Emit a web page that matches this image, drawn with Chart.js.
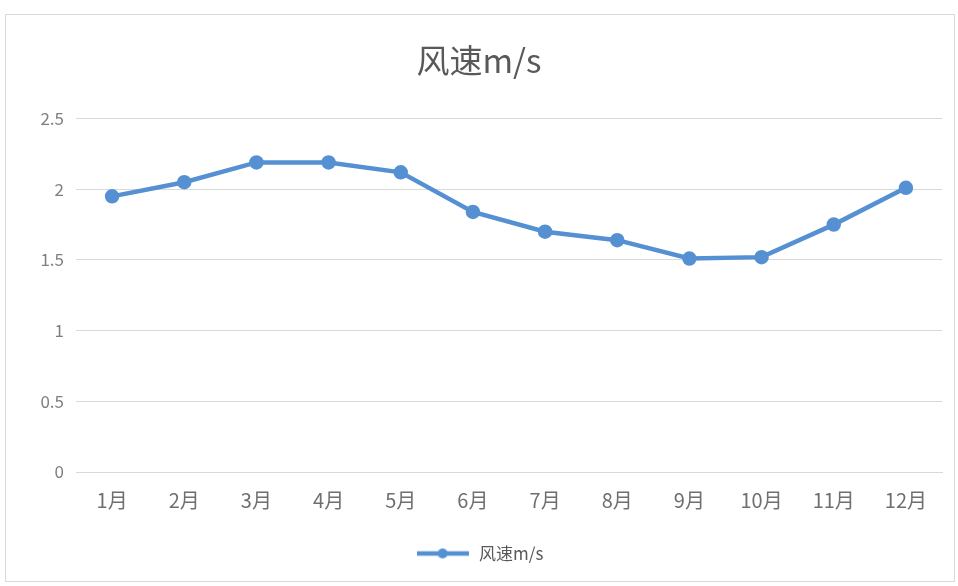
<!DOCTYPE html>
<html>
<head>
<meta charset="utf-8">
<script src="https://cdn.jsdelivr.net/npm/chart.js@4"></script>
<style>
  html, body { margin: 0; padding: 0; background: #fff; }
  #box {
    position: absolute; left: 5px; top: 14px;
    width: 950px; height: 568px;
    border: 1px solid #d9d9d9; box-sizing: border-box;
  }
  #chart { display: block; }
</style>
</head>
<body>
<div id="box"><canvas id="chart" width="948" height="566"></canvas></div>
<script>
const months = ['1月', '2月', '3月', '4月', '5月', '6月', '7月', '8月', '9月', '10月', '11月', '12月'];
const windSpeed = [1.95, 2.05, 2.19, 2.19, 2.12, 1.84, 1.70, 1.64, 1.51, 1.52, 1.75, 2.01];
const seriesName = '风速m/s';
const yTicks = [0, 0.5, 1, 1.5, 2, 2.5];

const fontFamily = '"Noto Sans CJK SC", "Noto Sans", sans-serif';
const blue = '#5590d2';

// legend symbol: line with a dot in the middle
function legendMarker() {
  const c = document.createElement('canvas');
  c.width = 52; c.height = 12;
  const g = c.getContext('2d');
  g.strokeStyle = blue;
  g.lineWidth = 4.5;
  g.beginPath(); g.moveTo(0, 6); g.lineTo(52, 6); g.stroke();
  g.fillStyle = blue;
  g.beginPath(); g.arc(26, 6, 5, 0, Math.PI * 2); g.fill();
  return c;
}

new Chart(document.getElementById('chart'), {
  type: 'line',
  data: {
    labels: months,
    datasets: [{
      label: seriesName,
      data: windSpeed,
      borderColor: blue,
      backgroundColor: blue,
      borderWidth: 4.5,
      pointRadius: 5,
      pointStyle: 'circle',
      pointBackgroundColor: blue,
      pointBorderColor: blue,
      tension: 0
    }]
  },
  options: {
    responsive: false,
    animation: false,
    layout: { padding: { left: 10, right: 12, top: 0, bottom: 9 } },
    plugins: {
      title: {
        display: true,
        text: seriesName,
        color: '#595959',
        font: { family: fontFamily, size: 33, weight: 'normal' },
        padding: { top: 26, bottom: 38 }
      },
      legend: {
        position: 'bottom',
        labels: {
          color: '#595959',
          font: { family: fontFamily, size: 17 },
          usePointStyle: true,
          pointStyle: legendMarker(),
          pointStyleWidth: 56,
          padding: 25
        }
      },
      tooltip: { enabled: false }
    },
    scales: {
      x: {
        offset: true,
        grid: { display: false },
        border: { color: '#d9d9d9' },
        ticks: { color: '#6f6f6f', font: { family: fontFamily, size: 20 }, padding: 8 }
      },
      y: {
        min: 0,
        max: 2.5,
        afterBuildTicks: (axis) => { axis.ticks = yTicks.map(v => ({ value: v })); },
        afterFit: (axis) => { axis.width = 60; },
        grid: { color: '#d9d9d9', drawTicks: false },
        border: { display: false },
        ticks: {
          color: '#7f7f7f',
          font: { family: fontFamily, size: 17 },
          padding: 12,
          callback: (v) => String(v)
        }
      }
    }
  }
});
</script>
</body>
</html>
